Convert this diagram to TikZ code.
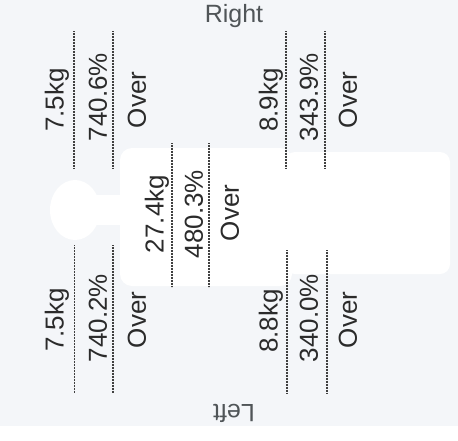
\documentclass[tikz,border=0pt]{standalone}
\usepackage{fontspec}
\setmainfont{Liberation Sans}
\definecolor{bgc}{HTML}{F4F6F9}
\definecolor{txt}{HTML}{2B2B2B}
\definecolor{sidetxt}{HTML}{505558}
\definecolor{dotc}{HTML}{404040}
\begin{document}
\begin{tikzpicture}[x=1pt,y=-1pt,
  lab/.style={font=\fontsize{26}{30}\selectfont, text=txt, rotate=90, inner sep=0pt},
  side/.style={font=\fontsize{25}{30}\selectfont, text=sidetxt, inner sep=0pt},
  sep/.style={draw=dotc, line width=1.2pt, dash pattern=on 0.8pt off 0.7pt},
  body/.style={fill=white, draw=none}]
\fill[bgc] (0,0) rectangle (458,440);
\fill[white] (0,426) rectangle (458,440);
% faint body silhouette
\fill[body] (75,210) ellipse [x radius=25, y radius=30];
\fill[body] (95,195) rectangle (125,225);
\fill[body, rounded corners=12pt] (120,148) rectangle (292,286);
\fill[body, rounded corners=10pt] (285,152) rectangle (450,274);
\useasboundingbox (0,0) rectangle (458,440);
% titles
\node[side] (right) at (234,16) {Right};
\node[side, rotate=180] (left) at (234,413) {Left};
% top-left group
\node[lab] (tlkg) at (57,100) {7.5kg};
\node[lab] (tlpc) at (98,97) {740.6\%};
\node[lab] (tlov) at (137,100) {Over};
\draw[sep] (74,31) -- (74,168);
\draw[sep] (113,31) -- (113,168);
% top-right group
\node[lab] (trkg) at (271,100) {8.9kg};
\node[lab] (trpc) at (309,97) {343.9\%};
\node[lab] (trov) at (348,100) {Over};
\draw[sep] (286,31) -- (286,168);
\draw[sep] (325,31) -- (325,168);
% centre group
\node[lab] (ckg) at (157,214) {27.4kg};
\node[lab] (cpc) at (194,214) {480.3\%};
\node[lab] (cov) at (230,213) {Over};
\draw[sep] (172,143) -- (172,287);
\draw[sep] (209,143) -- (209,287);
% bottom-left group
\node[lab] (blkg) at (57,320) {7.5kg};
\node[lab] (blpc) at (98,318) {740.2\%};
\node[lab] (blov) at (137,320) {Over};
\draw[sep] (74.5,245) -- (74.5,393);
\draw[sep] (113,245) -- (113,393);
% bottom-right group
\node[lab] (brkg) at (271,321) {8.8kg};
\node[lab] (brpc) at (309,318) {340.0\%};
\node[lab] (brov) at (348,320) {Over};
\draw[sep] (287,250) -- (287,393);
\draw[sep] (327,250) -- (327,393);
\end{tikzpicture}
\end{document}
